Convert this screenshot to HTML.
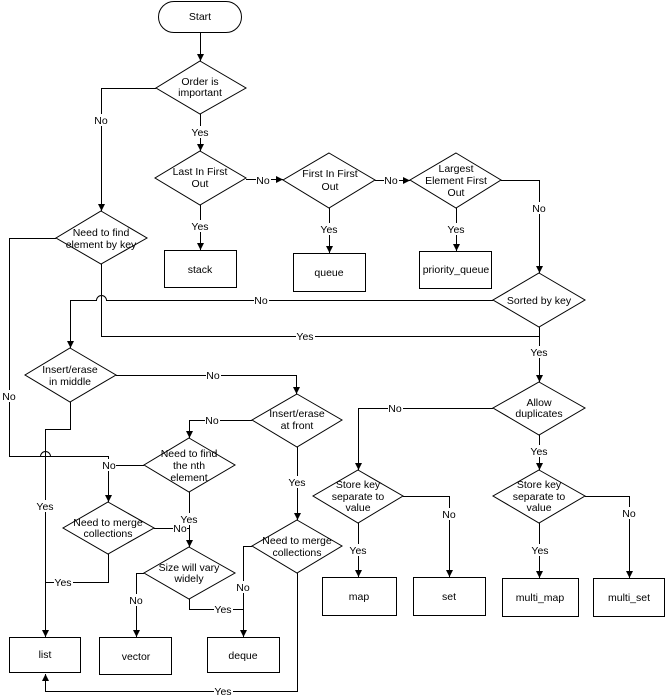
<!DOCTYPE html>
<html>
<head>
<meta charset="utf-8">
<style>
html,body{margin:0;padding:0;background:#fff;}
svg{display:block;}
text{font-family:"Liberation Sans",Arial,sans-serif;font-size:10.5px;fill:#000;}
</style>
</head>
<body>
<svg width="666" height="698" viewBox="0 0 666 698" xmlns="http://www.w3.org/2000/svg">
<defs>
<marker id="ad" markerWidth="8" markerHeight="8" refX="3.5" refY="7" orient="0" markerUnits="userSpaceOnUse">
<path d="M0,0 L7,0 L3.5,7 Z" fill="#000"/>
</marker>
</defs>
<g fill="none" stroke="#000" stroke-width="1">
<!-- shapes -->
<rect x="158.5" y="1.5" width="83" height="31" rx="15.5" ry="15.5"/>
<polygon points="200,61 246,88 200,114 156,88"/>
<polygon points="200,151 246,178 200,205 155,178"/>
<polygon points="329,153 375,180 329,208 283,180"/>
<polygon points="456,153 501,180 456,208 410,180"/>
<polygon points="101,211 147,238 101,264 56,238"/>
<polygon points="539,273 585,300 539,327 493,300"/>
<polygon points="70,348 116,375 70,402 25,375"/>
<polygon points="297,394 342,420 297,447 252,420"/>
<polygon points="189,438 235,465 189,492 144,465"/>
<polygon points="108,502 154,528 108,554 63,528"/>
<polygon points="189,547 235,573 189,599 144,573"/>
<polygon points="297,520 342,546 297,573 252,546"/>
<polygon points="539,382 585,408 539,435 493,408"/>
<polygon points="358,470 403,496 358,523 313,496"/>
<polygon points="539,470 585,496 539,523 493,496"/>
<rect x="164.5" y="250.5" width="72" height="37"/>
<rect x="293.5" y="253.5" width="72" height="38"/>
<rect x="419.5" y="251.5" width="72" height="37"/>
<rect x="9.5" y="637.5" width="71" height="35"/>
<rect x="99.5" y="637.5" width="72" height="37"/>
<rect x="207.5" y="637.5" width="72" height="35"/>
<rect x="322.5" y="577.5" width="74" height="38"/>
<rect x="413.5" y="577.5" width="72" height="38"/>
<rect x="502.5" y="578.5" width="76" height="38"/>
<rect x="593.5" y="578.5" width="71" height="38"/>

<!-- connectors -->
<path d="M200.5,33 V61"/>
<path d="M156,88.5 H101.5 V211"/>
<path d="M200.5,114 V151"/>
<path d="M246,179.5 H283"/>
<path d="M200.5,205 V250"/>
<path d="M375,180.5 H410"/>
<path d="M329.5,208 V253"/>
<path d="M456.5,208 V251"/>
<path d="M501,180.5 H539.5 V273"/>
<path d="M493,300.5 H106.5 A5,5 0 0 0 96.5,300.5 H70.5 V348"/>
<path d="M101.5,264 V336.5 H539.5"/>
<path d="M539.5,327 V382"/>
<path d="M56,238.5 H9.5 V456.5 H50.5 A5,5 0 0 0 40.5,456.5 M50.5,456.5 H108.5 V502"/>
<path d="M9.5,456.5 H40.5"/>
<path d="M116,375.5 H296.5 V394"/>
<path d="M70.5,402 V429.5 H45.5 V637"/>
<path d="M252,420.5 H189.5 V438"/>
<path d="M297.5,447 V520"/>
<path d="M144,465.5 H108.5"/>
<path d="M189.5,492 V547"/>
<path d="M154,528.5 H189.5"/>
<path d="M108.5,554 V582.5 H45.5"/>
<path d="M144,573.5 H136.5 V637"/>
<path d="M189.5,599 V609.5 H243.5"/>
<path d="M252,546.5 H243.5 V637"/>
<path d="M297.5,573 V691.5 H45.5 V674"/>
<path d="M493,408.5 H358.5 V470"/>
<path d="M539.5,435 V470"/>
<path d="M403,496.5 H449.5 V577"/>
<path d="M358.5,523 V577"/>
<path d="M585,496.5 H629.5 V578"/>
<path d="M539.5,523 V578"/>
</g>

<!-- arrowheads -->
<g fill="#000" stroke="none">
<path d="M197,54 L204,54 L200.5,61 Z"/>
<path d="M98,204 L105,204 L101.5,211 Z"/>
<path d="M197,144 L204,144 L200.5,151 Z"/>
<path d="M276,176 L276,183 L283,179.5 Z"/>
<path d="M197,243 L204,243 L200.5,250 Z"/>
<path d="M403,177 L403,184 L410,180.5 Z"/>
<path d="M326,246 L333,246 L329.5,253 Z"/>
<path d="M453,244 L460,244 L456.5,251 Z"/>
<path d="M536,266 L543,266 L539.5,273 Z"/>
<path d="M67,341 L74,341 L70.5,348 Z"/>
<path d="M536,375 L543,375 L539.5,382 Z"/>
<path d="M105,495 L112,495 L108.5,502 Z"/>
<path d="M293,387 L300,387 L296.5,394 Z"/>
<path d="M42,630 L49,630 L45.5,637 Z"/>
<path d="M186,431 L193,431 L189.5,438 Z"/>
<path d="M294,513 L301,513 L297.5,520 Z"/>
<path d="M186,540 L193,540 L189.5,547 Z"/>
<path d="M133,630 L140,630 L136.5,637 Z"/>
<path d="M240,630 L247,630 L243.5,637 Z"/>
<path d="M42,681 L49,681 L45.5,674 Z"/>
<path d="M355,463 L362,463 L358.5,470 Z"/>
<path d="M536,463 L543,463 L539.5,470 Z"/>
<path d="M446,570 L453,570 L449.5,577 Z"/>
<path d="M355,570 L362,570 L358.5,577 Z"/>
<path d="M626,571 L633,571 L629.5,578 Z"/>
<path d="M536,571 L543,571 L539.5,578 Z"/>
</g>

<!-- connector label backgrounds -->
<g fill="#fff" stroke="none">
<rect x="94" y="114" width="15" height="12"/>
<rect x="191" y="126" width="19" height="12"/>
<rect x="256" y="174" width="15" height="12"/>
<rect x="191" y="220" width="19" height="12"/>
<rect x="384" y="174" width="15" height="12"/>
<rect x="320" y="223" width="19" height="12"/>
<rect x="447" y="223" width="19" height="12"/>
<rect x="532" y="202" width="15" height="12"/>
<rect x="254" y="294" width="15" height="12"/>
<rect x="296" y="330" width="19" height="12"/>
<rect x="530" y="346" width="19" height="12"/>
<rect x="2" y="390" width="15" height="12"/>
<rect x="206" y="369" width="15" height="12"/>
<rect x="205" y="414" width="15" height="12"/>
<rect x="288" y="476" width="19" height="12"/>
<rect x="102" y="459" width="14" height="12"/>
<rect x="180" y="513" width="19" height="12"/>
<rect x="173" y="522" width="14" height="12"/>
<rect x="36" y="500" width="19" height="12"/>
<rect x="54" y="576" width="19" height="12"/>
<rect x="129" y="594" width="15" height="12"/>
<rect x="214" y="603" width="19" height="12"/>
<rect x="236" y="581" width="15" height="12"/>
<rect x="214" y="685" width="19" height="12"/>
<rect x="388" y="402" width="15" height="12"/>
<rect x="530" y="445" width="19" height="12"/>
<rect x="442" y="508" width="15" height="12"/>
<rect x="622" y="507" width="15" height="12"/>
<rect x="348" y="544" width="19" height="12"/>
<rect x="531" y="544" width="19" height="12"/>
</g>

<!-- text -->
<g text-anchor="middle">
<text x="200" y="20">Start</text>
<text x="200" y="85">Order is</text>
<text x="200" y="96">important</text>
<text x="200" y="175">Last In First</text>
<text x="200" y="187">Out</text>
<text x="330" y="177">First In First</text>
<text x="330" y="190">Out</text>
<text x="456" y="172">Largest</text>
<text x="456" y="184">Element First</text>
<text x="456" y="196">Out</text>
<text x="101" y="236">Need to find</text>
<text x="101" y="248">element by key</text>
<text x="539" y="304">Sorted by key</text>
<text x="70" y="373">Insert/erase</text>
<text x="70" y="385">in middle</text>
<text x="297" y="417">Insert/erase</text>
<text x="297" y="429">at front</text>
<text x="189" y="457">Need to find</text>
<text x="189" y="469">the nth</text>
<text x="189" y="481">element</text>
<text x="108" y="526">Need to merge</text>
<text x="108" y="537">collections</text>
<text x="189" y="571">Size will vary</text>
<text x="189" y="582">widely</text>
<text x="297" y="544">Need to merge</text>
<text x="297" y="556">collections</text>
<text x="539" y="406">Allow</text>
<text x="539" y="417">duplicates</text>
<text x="358" y="488">Store key</text>
<text x="358" y="500">separate to</text>
<text x="358" y="511">value</text>
<text x="539" y="488">Store key</text>
<text x="539" y="500">separate to</text>
<text x="539" y="511">value</text>

<text x="200" y="273">stack</text>
<text x="329" y="276">queue</text>
<text x="456" y="273">priority_queue</text>
<text x="45" y="658">list</text>
<text x="136" y="660">vector</text>
<text x="243" y="659">deque</text>
<text x="359" y="600">map</text>
<text x="449" y="600">set</text>
<text x="540" y="601">multi_map</text>
<text x="629" y="601">multi_set</text>

<text x="101" y="124">No</text>
<text x="200" y="136">Yes</text>
<text x="263" y="184">No</text>
<text x="200" y="230">Yes</text>
<text x="391" y="184">No</text>
<text x="329" y="233">Yes</text>
<text x="456" y="233">Yes</text>
<text x="539" y="212">No</text>
<text x="261" y="304">No</text>
<text x="305" y="340">Yes</text>
<text x="539" y="356">Yes</text>
<text x="9" y="400">No</text>
<text x="213" y="379">No</text>
<text x="212" y="424">No</text>
<text x="297" y="486">Yes</text>
<text x="109" y="469">No</text>
<text x="189" y="523">Yes</text>
<text x="180" y="532">No</text>
<text x="45" y="510">Yes</text>
<text x="63" y="586">Yes</text>
<text x="136" y="604">No</text>
<text x="223" y="613">Yes</text>
<text x="243" y="591">No</text>
<text x="223" y="695">Yes</text>
<text x="395" y="412">No</text>
<text x="539" y="455">Yes</text>
<text x="449" y="518">No</text>
<text x="629" y="517">No</text>
<text x="358" y="554">Yes</text>
<text x="540" y="554">Yes</text>
</g>
</svg>
</body>
</html>
